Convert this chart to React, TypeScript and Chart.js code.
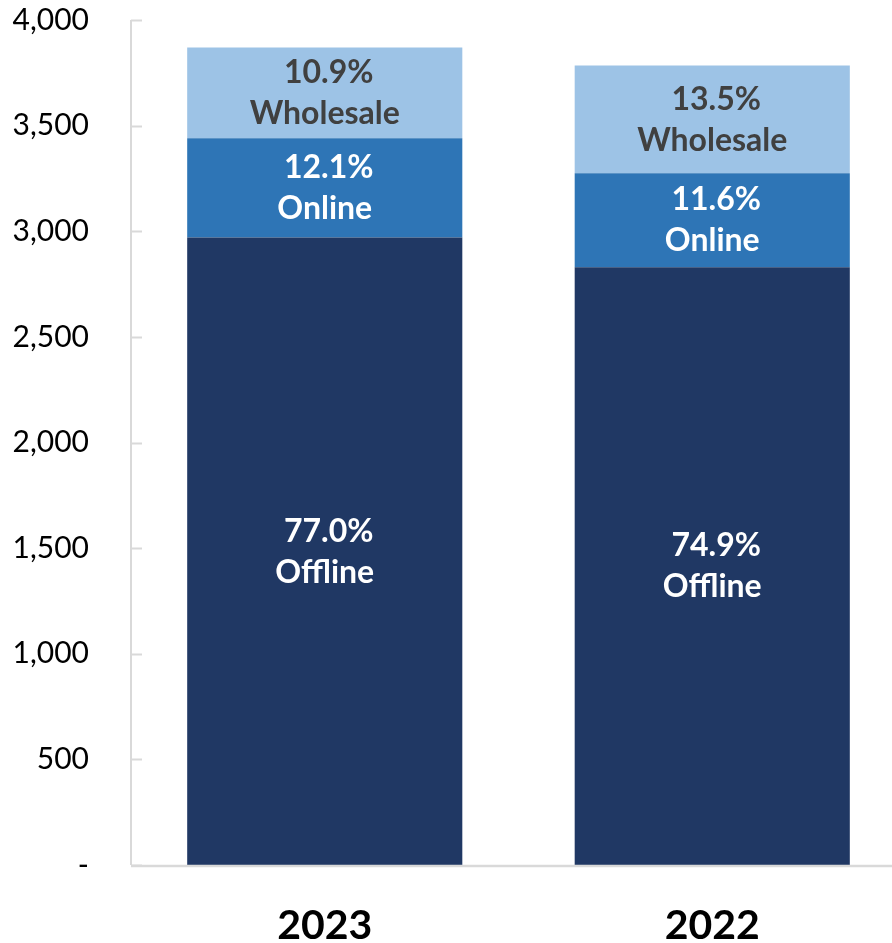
import React, { useEffect, useRef } from "react";
import { Chart, registerables } from "chart.js";

Chart.register(...registerables);

const categories = ["2023", "2022"];
const offline = [2970, 2830];
const online = [470, 445];
const wholesale = [430, 510];
const offlinePct = ["77.0%", "74.9%"];
const onlinePct = ["12.1%", "11.6%"];
const wholesalePct = ["10.9%", "13.5%"];
const yTicks = [0, 500, 1000, 1500, 2000, 2500, 3000, 3500, 4000];

const FONT = "Lato, 'Open Sans', sans-serif";
const SHIFT = 40;

const axisPlugin = {
  id: "customAxes",
  afterDatasetsDraw(chart: any) {
    const { ctx, chartArea, scales } = chart;
    const y = scales.y;
    ctx.save();
    ctx.strokeStyle = "#d9d9d9";
    ctx.lineWidth = 2;
    ctx.beginPath();
    ctx.moveTo(chartArea.left, y.getPixelForValue(4000));
    ctx.lineTo(chartArea.left, y.getPixelForValue(0));
    ctx.stroke();
    yTicks.forEach((v) => {
      const py = Math.round(y.getPixelForValue(v)) + 0.5;
      ctx.beginPath();
      ctx.lineWidth = 2;
      ctx.moveTo(chartArea.left, py);
      ctx.lineTo(chartArea.left + 11, py);
      ctx.stroke();
    });
    ctx.lineWidth = 2.5;
    ctx.beginPath();
    const by = y.getPixelForValue(0) + 1;
    ctx.moveTo(chartArea.left, by);
    ctx.lineTo(chartArea.right, by);
    ctx.stroke();
    ctx.restore();
  },
};

const labelPlugin = {
  id: "segLabels",
  afterDatasetsDraw(chart: any) {
    const { ctx } = chart;
    const pcts = [offlinePct, onlinePct, wholesalePct];
    const names = ["Offline", "Online", "Wholesale"];
    const colors = ["#ffffff", "#ffffff", "#404040"];
    ctx.save();
    ctx.font = `bold 32px ${FONT}`;
    ctx.textAlign = "center";
    ctx.textBaseline = "middle";
    chart.data.datasets.forEach((_: any, di: number) => {
      const meta = chart.getDatasetMeta(di);
      meta.data.forEach((bar: any, i: number) => {
        const cy = (bar.y + bar.base) / 2;
        ctx.fillStyle = colors[di];
        ctx.fillText(pcts[di][i], bar.x + 4, cy - 20);
        ctx.fillText(names[di], bar.x, cy + 21);
      });
    });
    ctx.restore();
  },
};

export default function App() {
  const ref = useRef<HTMLCanvasElement>(null);
  useEffect(() => {
    if (!ref.current) return;
    const chart = new Chart(ref.current, {
      type: "bar",
      data: {
        labels: categories,
        datasets: [
          { label: "Offline", data: offline, backgroundColor: "#203864" },
          { label: "Online", data: online, backgroundColor: "#2e75b6" },
          { label: "Wholesale", data: wholesale, backgroundColor: "#9dc3e6" },
        ],
      },
      options: {
        animation: false,
        responsive: false,
        maintainAspectRatio: false,
        layout: { padding: { top: 20, left: 0, right: 0, bottom: 0 } },
        datasets: { bar: { categoryPercentage: 0.71, barPercentage: 1 } },
        plugins: { legend: { display: false }, tooltip: { enabled: false } },
        scales: {
          x: {
            stacked: true,
            grid: { display: false, drawTicks: false },
            border: { display: false },
            ticks: {
              color: "#000",
              font: { family: FONT, size: 41, weight: "bold" },
              padding: 36,
            },
            afterFit: (s: any) => {
              s.height = 78;
            },
          },
          y: {
            stacked: true,
            min: 0,
            max: 4000,
            afterBuildTicks: (s: any) => {
              s.ticks = yTicks.map((v) => ({ value: v }));
            },
            grid: { display: false, drawTicks: false },
            border: { display: false },
            ticks: {
              color: "#000",
              font: { family: FONT, size: 30 },
              padding: 42,
              callback: (v: any) => (Number(v) === 0 ? "-" : Number(v).toLocaleString("en-US")),
            },
            afterFit: (s: any) => {
              s.width = 131;
            },
          },
        },
      },
      plugins: [axisPlugin, labelPlugin],
    });
    return () => chart.destroy();
  }, []);
  return (
    <div
      style={{
        position: "absolute",
        left: 0,
        top: 0,
        width: 892,
        height: 943,
        overflow: "hidden",
        background: "#fff",
      }}
    >
      <canvas
        ref={ref}
        width={906}
        height={943 + SHIFT}
        style={{ display: "block", width: 906, height: 943 + SHIFT, marginTop: -SHIFT }}
      />
    </div>
  );
}
